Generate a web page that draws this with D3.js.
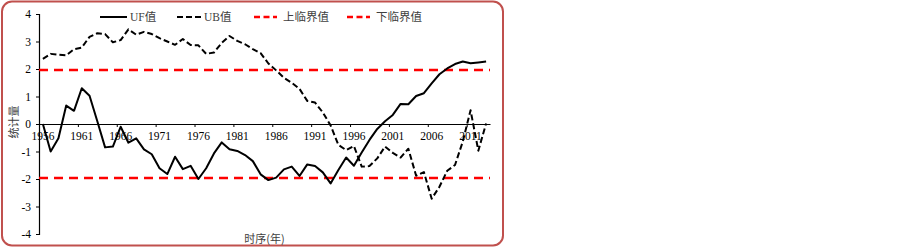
<!DOCTYPE html>
<html lang="zh">
<head>
<meta charset="UTF-8">
<title>UF UB</title>
<script src="https://cdn.jsdelivr.net/npm/d3@7"></script>
<style>
  body { margin: 0; background: #fff; }
  text { font-family: "Liberation Serif", "Noto Sans CJK SC", serif; }
</style>
</head>
<body>
<script>
    // 1956 - 2013
    var years = d3.range(1956, 2014)
    var ufValues = [0, -1.0, -0.52, 0.67, 0.48, 1.3, 1.03, 0.1, -0.85, -0.82,
        -0.1, -0.68, -0.52, -0.92, -1.1, -1.61, -1.82, -1.19, -1.64, -1.52,
        -2.0, -1.61, -1.07, -0.67, -0.92, -0.98, -1.13, -1.35, -1.83, -2.04,
        -1.95, -1.65, -1.55, -1.89, -1.47, -1.53, -1.76, -2.16, -1.67, -1.22,
        -1.52, -1.04, -0.58, -0.18, 0.1, 0.33, 0.73, 0.72, 1.02, 1.12,
        1.48, 1.81, 2.02, 2.18, 2.27, 2.21, 2.24, 2.27]
    var ubValues = [2.37, 2.55, 2.52, 2.5, 2.72, 2.78, 3.17, 3.3, 3.27, 2.97,
        3.05, 3.44, 3.25, 3.35, 3.27, 3.12, 3.0, 2.88, 3.09, 2.87,
        2.86, 2.55, 2.6, 2.95, 3.2, 3.02, 2.9, 2.72, 2.58, 2.2,
        1.95, 1.68, 1.5, 1.28, 0.84, 0.78, 0.42, -0.05, -0.76, -0.95,
        -0.8, -1.55, -1.53, -1.25, -0.82, -1.05, -1.22, -0.9, -1.88, -1.75,
        -2.72, -2.28, -1.7, -1.49, -0.64, 0.5, -0.97, 0.02]
    var upperCrit = 1.96
    var lowerCrit = -1.96
    var yTicks = [-4, -3, -2, -1, 0, 1, 2, 3, 4]
    var legendNames = ["UF值", "UB值", "上临界值", "下临界值"]

    var width = 903
    var height = 248
    var margin = {top: 14, left: 39, right: 413, bottom: 14}

    var svg = d3.select("body").append("svg")
        .attr("width", width)
        .attr("height", height)

    // frame
    svg.append("rect")
        .attr("x", 2)
        .attr("y", 1.5)
        .attr("width", 501)
        .attr("height", 244)
        .attr("rx", 10)
        .attr("fill", "white")
        .attr("stroke", "#c0504d")
        .attr("stroke-width", 2)

    var xBand = d3.scaleBand()
        .domain(years)
        .range([margin.left, width - margin.right])
    var xIdx = d3.scaleLinear()
        .domain([0, years.length])
        .range([margin.left, width - margin.right])
    var yScale = d3.scaleLinear()
        .domain([-4, 4])
        .range([height - margin.bottom, margin.top])

    function cx(i) { return xBand(years[i]) + xBand.bandwidth() / 2 }

    var axisColor = "#000"

    // y axis
    var yAx = svg.append("g")
        .attr("transform", "translate(" + margin.left + ",0)")
        .call(d3.axisLeft(yScale).tickValues(yTicks).tickSize(3).tickPadding(5)
            .tickFormat(function (d) { return String(d) }))
    yAx.select(".domain").attr("stroke", axisColor).attr("stroke-width", 1.2)
    yAx.selectAll("line").attr("stroke", axisColor)
    yAx.selectAll("text").attr("font-size", "11.5px").attr("fill", "#000")
        .style("font-family", "Liberation Serif")

    // x axis at y = 0, ticks between categories
    var xTicks = svg.append("g")
        .attr("transform", "translate(0," + yScale(0) + ")")
        .call(d3.axisBottom(xIdx)
            .tickValues(d3.range(0, years.length, 5))
            .tickSize(3).tickSizeOuter(0).tickFormat(""))
    xTicks.select(".domain").attr("stroke", axisColor).attr("stroke-width", 1.2)
    xTicks.selectAll("line").attr("stroke", axisColor)

    var xLabels = svg.append("g")
        .attr("transform", "translate(0," + yScale(0) + ")")
        .call(d3.axisBottom(xBand)
            .tickValues(years.filter(function (d, i) { return i % 5 === 0 }))
            .tickSize(0).tickPadding(8))
    xLabels.select(".domain").remove()
    xLabels.selectAll("text").attr("font-size", "11.5px").attr("fill", "#000")
        .style("font-family", "Liberation Serif")

    // critical lines
    var critLine = d3.line()
        .x(function (d) { return xIdx(d[0]) })
        .y(function (d) { return yScale(d[1]) })
    ;[upperCrit, lowerCrit].forEach(function (c) {
        svg.append("path")
            .datum([[0, c], [years.length, c]])
            .attr("fill", "none")
            .attr("stroke", "#ff0000")
            .attr("stroke-width", 2.5)
            .attr("stroke-dasharray", "9,6")
            .attr("d", critLine)
    })

    var line = d3.line()
        .x(function (d, i) { return cx(i) })
        .y(function (d) { return yScale(d) })

    svg.append("path")
        .datum(ubValues)
        .attr("fill", "none")
        .attr("stroke", "black")
        .attr("stroke-width", 2)
        .attr("stroke-dasharray", "6,3")
        .attr("stroke-linejoin", "round")
        .attr("d", line)

    svg.append("path")
        .datum(ufValues)
        .attr("fill", "none")
        .attr("stroke", "black")
        .attr("stroke-width", 2)
        .attr("stroke-linejoin", "round")
        .attr("d", line)

    // axis titles
    svg.append("text")
        .attr("transform", "translate(18,122) rotate(-90)")
        .attr("text-anchor", "middle")
        .attr("font-size", "11px")
        .attr("fill", "#404040")
        .style("font-family", "Noto Sans CJK SC")
        .text("统计量")

    svg.append("text")
        .attr("x", (margin.left + width - margin.right) / 2)
        .attr("y", 243)
        .attr("text-anchor", "middle")
        .attr("font-size", "11px")
        .attr("fill", "#404040")
        .style("font-family", "Noto Sans CJK SC")
        .text("时序(年)")

    // legend
    var legendItems = [
        {x1: 100, x2: 127, tx: 130, color: "black", dash: null, w: 2},
        {x1: 177, x2: 201, tx: 204, color: "black", dash: "6,3", w: 2},
        {x1: 254, x2: 277, tx: 283, color: "#ff0000", dash: "6,3.5", w: 2.5},
        {x1: 347, x2: 370, tx: 376, color: "#ff0000", dash: "6,3.5", w: 2.5}
    ]
    legendItems.forEach(function (it, i) {
        svg.append("line")
            .attr("x1", it.x1).attr("x2", it.x2)
            .attr("y1", 17).attr("y2", 17)
            .attr("stroke", it.color)
            .attr("stroke-width", it.w)
            .attr("stroke-dasharray", it.dash)
        svg.append("text")
            .attr("x", it.tx)
            .attr("y", 21)
            .attr("font-size", "11.5px")
            .attr("fill", "#404040")
            .text(legendNames[i])
    })
</script>
</body>
</html>
